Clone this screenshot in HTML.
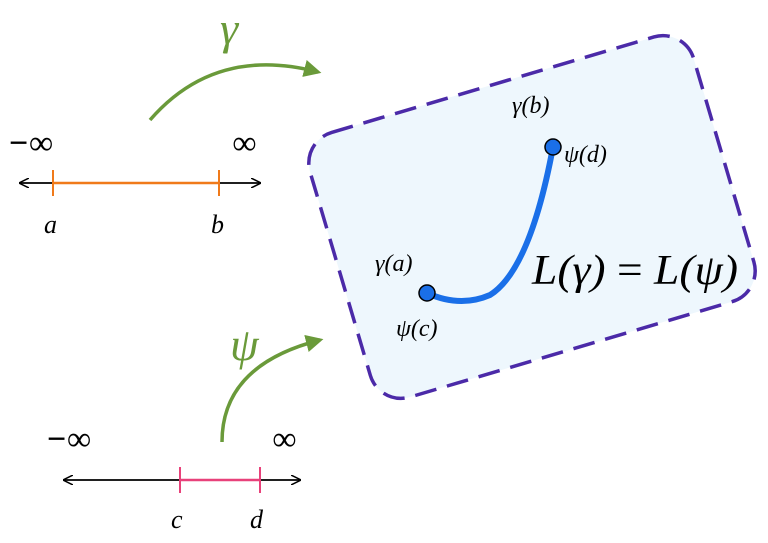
<!DOCTYPE html>
<html><head><meta charset="utf-8"><style>
html,body{margin:0;padding:0;background:#fff;}
svg{display:block;}
text{font-family:"Liberation Serif",serif;font-style:italic;}
</style></head><body>
<svg width="768" height="543" viewBox="0 0 768 543" xmlns="http://www.w3.org/2000/svg">
<defs>
<marker id="ga" viewBox="0 0 10 10" refX="8" refY="5" markerWidth="5" markerHeight="5" orient="auto"><path d="M0,0 L10,5 L0,10 z" fill="#6a9a3a"/></marker>
<marker id="ba" viewBox="0 0 10 10" refX="9" refY="5" markerWidth="10" markerHeight="10" orient="auto-start-reverse" markerUnits="userSpaceOnUse"><path d="M0,0 L10,5 L0,10" fill="none" stroke="#000" stroke-width="1.5"/></marker>
</defs>
<rect x="-200" y="-138" width="400" height="276" rx="32" transform="translate(532,217) rotate(-16.5)" fill="#eef7fd" stroke="#4b2aa8" stroke-width="3.5" stroke-dasharray="22,11"/>
<line x1="20" y1="183" x2="260" y2="183" stroke="#000" stroke-width="1.8" marker-start="url(#ba)" marker-end="url(#ba)"/>
<line x1="53" y1="183" x2="219" y2="183" stroke="#f07a1a" stroke-width="2.5"/>
<line x1="53" y1="170" x2="53" y2="196" stroke="#f07a1a" stroke-width="2"/>
<line x1="219" y1="170" x2="219" y2="196" stroke="#f07a1a" stroke-width="2"/>
<text x="8" y="154" font-size="34" font-style="normal" font-weight="bold">−∞</text>
<text x="232" y="154" font-size="34" font-style="normal" font-weight="bold">∞</text>
<text x="44" y="233" font-size="26">a</text>
<text x="211" y="233" font-size="26">b</text>
<line x1="64" y1="480" x2="300" y2="480" stroke="#000" stroke-width="1.8" marker-start="url(#ba)" marker-end="url(#ba)"/>
<line x1="180" y1="480" x2="260" y2="480" stroke="#e8417a" stroke-width="2.5"/>
<line x1="180" y1="467" x2="180" y2="493" stroke="#e8417a" stroke-width="2"/>
<line x1="260" y1="467" x2="260" y2="493" stroke="#e8417a" stroke-width="2"/>
<text x="46" y="450" font-size="34" font-style="normal" font-weight="bold">−∞</text>
<text x="272" y="450" font-size="34" font-style="normal" font-weight="bold">∞</text>
<text x="171" y="528" font-size="26">c</text>
<text x="250" y="528" font-size="26">d</text>
<path d="M150,120 Q215,45 318,72" fill="none" stroke="#6a9a3a" stroke-width="3.5" marker-end="url(#ga)"/>
<text x="220" y="44" font-size="46" fill="#6a9a3a">γ</text>
<path d="M222,442 Q222,365 320,340" fill="none" stroke="#6a9a3a" stroke-width="3.5" marker-end="url(#ga)"/>
<text x="230" y="360" font-size="46" fill="#6a9a3a">ψ</text>
<path d="M427,293 Q460,308 490,295 Q530,270 553,147" fill="none" stroke="#1a6fe8" stroke-width="6"/>
<circle cx="427" cy="293" r="8" fill="#1a6fe8" stroke="#000" stroke-width="1.5"/>
<circle cx="553" cy="147" r="8" fill="#1a6fe8" stroke="#000" stroke-width="1.5"/>
<text x="512" y="113" font-size="24">γ(b)</text>
<text x="564" y="162" font-size="24">ψ(d)</text>
<text x="375" y="271" font-size="24">γ(a)</text>
<text x="396" y="336" font-size="24">ψ(c)</text>
<text x="532" y="284" font-size="42" textLength="206" lengthAdjust="spacingAndGlyphs">L(γ) <tspan font-style="normal">=</tspan> L(ψ)</text>
</svg>
</body></html>
